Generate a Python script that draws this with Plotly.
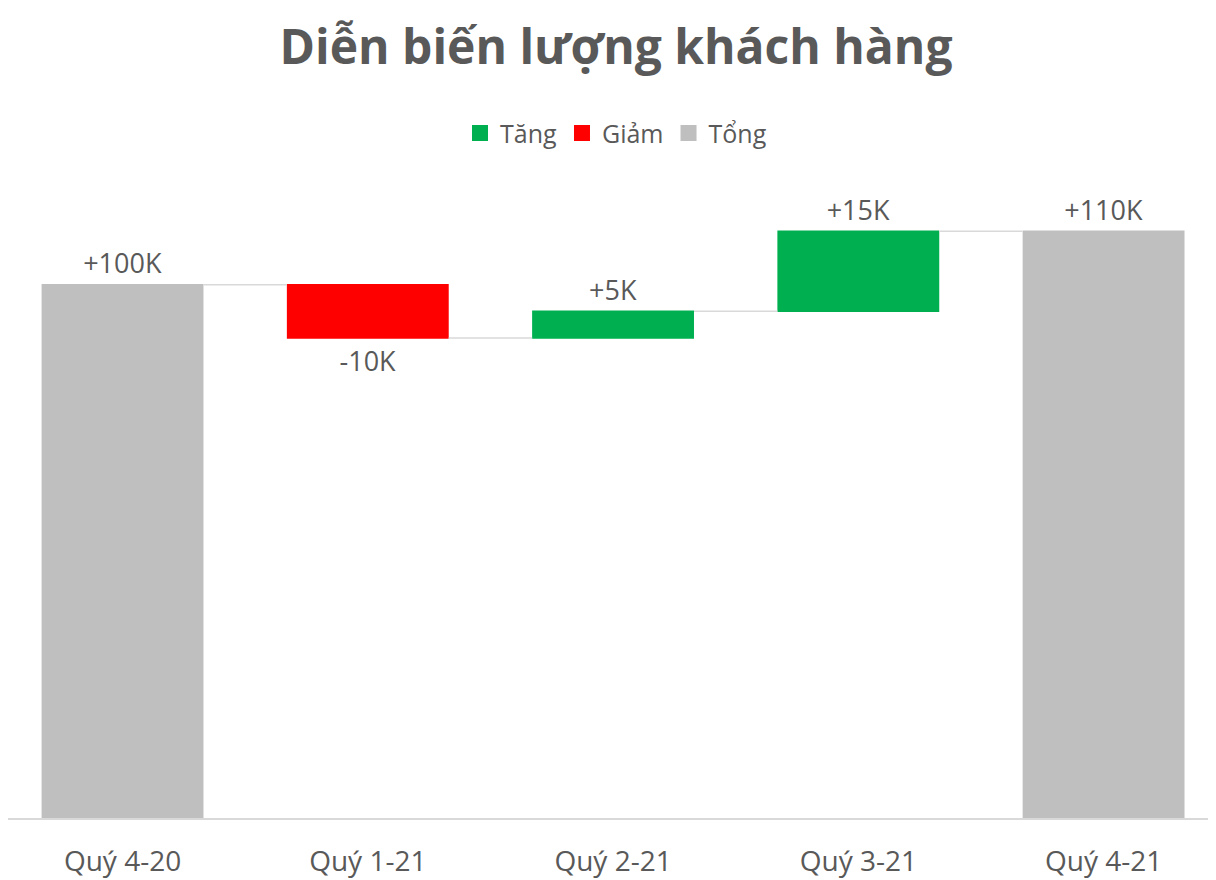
import plotly.graph_objects as go

categories = ["Quý 4-20", "Quý 1-21", "Quý 2-21", "Quý 3-21", "Quý 4-21"]
values = [100, -10, 5, 15, 110]
measures = ["absolute", "relative", "relative", "relative", "total"]
labels = ["+100K", "-10K", "+5K", "+15K", "+110K"]

GREEN, RED, GRAY = "#00B050", "#FF0000", "#BFBFBF"
TXT = "#595959"
FONT = "Open Sans"

fig = go.Figure()
fig.add_trace(go.Waterfall(
    x=list(range(len(categories))), y=values, measure=measures,
    text=labels, textposition="outside",
    textfont=dict(size=27, color=TXT, family=FONT),
    increasing=dict(marker=dict(color=GREEN)),
    decreasing=dict(marker=dict(color=RED)),
    totals=dict(marker=dict(color=GRAY)),
    connector=dict(line=dict(color="#D9D9D9", width=1.5)),
    showlegend=False, hoverinfo="skip", cliponaxis=False,
))
for name, col in [("Tăng", GREEN), ("Giảm", RED), ("Tổng", GRAY)]:
    fig.add_trace(go.Scatter(x=[None], y=[None], mode="markers", name=name,
                             marker=dict(symbol="square", size=16, color=col)))

fig.update_layout(
    width=1216, height=880, plot_bgcolor="white", paper_bgcolor="white",
    margin=dict(l=0, r=0, t=170, b=70, autoexpand=False),
    waterfallgap=0.34,
    title=dict(text="<b>Diễn biến lượng khách hàng</b>", x=0.5, xanchor="center",
               y=0.955, yanchor="middle",
               font=dict(size=48, color=TXT, family=FONT)),
    legend=dict(orientation="h", x=0.5, xanchor="center", y=1.07, yanchor="middle",
                font=dict(size=25, color=TXT, family=FONT), itemwidth=30),
    xaxis=dict(range=[-0.467, 4.491], tickmode="array",
               tickvals=list(range(len(categories))), ticktext=categories,
               tickfont=dict(size=28, color=TXT, family=FONT), showgrid=False,
               showline=True, linecolor="#D9D9D9", linewidth=1.5, ticks="",
               ticklabelstandoff=18),
    yaxis=dict(range=[0, 120], visible=False, showgrid=False, zeroline=False),
)
fig.write_html("out.html")
